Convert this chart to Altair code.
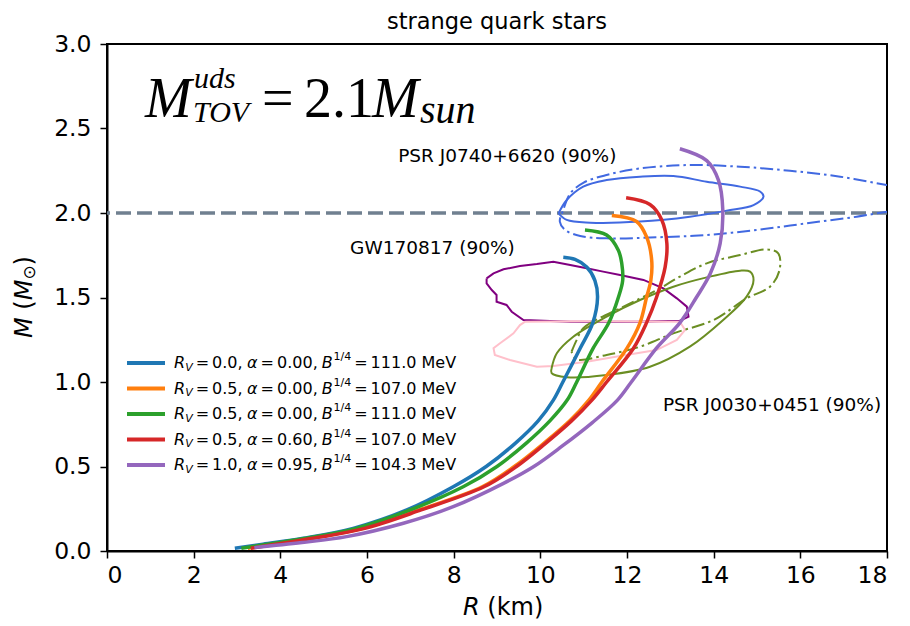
import altair as alt
import pandas as pd

W, H = 780, 507

# ---------------- data ----------------
series_labels = [
    "Rv=0.0, a=0.00, B=111.0",
    "Rv=0.5, a=0.00, B=107.0",
    "Rv=0.5, a=0.00, B=111.0",
    "Rv=0.5, a=0.60, B=107.0",
    "Rv=1.0, a=0.95, B=104.3",
]
series_colors = ["#1f77b4", "#ff7f0e", "#2ca02c", "#d62728", "#9467bd"]
legend_rv = ["0.0,", "0.5,", "0.5,", "0.5,", "1.0,"]
legend_alpha = ["0.00,", "0.00,", "0.00,", "0.60,", "0.95,"]
legend_b = ["111.0 MeV", "107.0 MeV", "111.0 MeV", "107.0 MeV", "104.3 MeV"]

blue_R = [2.95, 3.6, 4.53, 5.68, 6.92, 7.99, 8.75, 9.42, 9.95, 10.3, 10.52, 10.92, 11.21, 11.32, 11.26, 11.07, 10.8, 10.53]
blue_M = [0.016, 0.04, 0.075, 0.134, 0.243, 0.38, 0.5, 0.637, 0.77, 0.893, 1.0, 1.2, 1.35, 1.5, 1.6, 1.68, 1.725, 1.738]

orange_R = [3.25, 3.85, 4.7, 5.9, 7.2, 8.66, 9.4, 10.08, 10.68, 11.12, 11.42, 12.0, 12.3, 12.45, 12.55, 12.57, 12.45, 12.22, 11.65]
orange_M = [0.016, 0.04, 0.075, 0.134, 0.243, 0.38, 0.5, 0.637, 0.77, 0.893, 1.0, 1.2, 1.35, 1.5, 1.6, 1.72, 1.86, 1.95, 1.985]

green_R = [3.1, 3.7, 4.6, 5.75, 7.0, 8.22, 9.0, 9.67, 10.22, 10.62, 10.84, 11.22, 11.58, 11.8, 11.9, 11.88, 11.8, 11.53, 11.03]
green_M = [0.016, 0.04, 0.075, 0.134, 0.243, 0.38, 0.5, 0.637, 0.77, 0.893, 1.0, 1.2, 1.35, 1.5, 1.6, 1.7, 1.78, 1.87, 1.90]

red_R = [3.32, 3.9, 4.75, 5.95, 7.25, 8.7, 9.45, 10.12, 10.72, 11.19, 11.53, 12.15, 12.45, 12.68, 12.88, 12.92, 12.8, 12.53, 11.98]
red_M = [0.016, 0.04, 0.075, 0.134, 0.243, 0.38, 0.5, 0.637, 0.77, 0.893, 1.0, 1.2, 1.35, 1.5, 1.68, 1.82, 1.96, 2.05, 2.09]

purple_R = [3.4, 4.5, 5.53, 6.84, 7.99, 9.15, 9.85, 10.5, 11.2, 11.78, 12.1, 12.68, 13.22, 13.6, 13.92, 14.15, 14.21, 14.11, 13.84, 13.22]
purple_M = [0.02, 0.05, 0.085, 0.164, 0.262, 0.40, 0.5, 0.62, 0.76, 0.893, 1.0, 1.2, 1.35, 1.5, 1.64, 1.82, 2.02, 2.195, 2.31, 2.38]

# PSR J0740+6620 contours
j0740_R = [10.42, 10.61, 10.99, 11.53, 12.3, 13.07, 13.84, 14.61, 15.07, 15.15, 14.92, 14.3, 13.45, 12.3, 11.15, 10.61, 10.42]
j0740_M = [1.998, 2.077, 2.156, 2.195, 2.215, 2.219, 2.185, 2.156, 2.127, 2.097, 2.047, 2.014, 1.978, 1.949, 1.943, 1.959, 1.998]
j0740b_R = [18.6, 18.0, 17.3, 16.15, 15.0, 13.84, 12.68, 11.53, 10.92, 10.57, 10.45, 10.53, 10.69, 11.0, 11.53, 12.3, 13.45, 14.61, 15.76, 16.92, 17.99, 18.6]
j0740b_M = [2.03, 2.008, 1.978, 1.939, 1.90, 1.87, 1.856, 1.85, 1.864, 1.90, 1.949, 2.018, 2.116, 2.18, 2.225, 2.264, 2.284, 2.274, 2.25, 2.215, 2.166, 2.14]

# GW170817 contours
gw_R = [8.76, 8.92, 9.15, 9.53, 9.92, 10.3, 10.69, 11.07, 11.45, 11.84, 12.38, 12.84, 13.15, 13.38, 13.42, 13.22, 12.22, 10.69, 9.61, 9.34, 9.22, 8.99, 8.99, 8.88, 8.76, 8.76]
gw_M = [1.613, 1.643, 1.667, 1.686, 1.698, 1.712, 1.692, 1.673, 1.653, 1.633, 1.604, 1.554, 1.495, 1.446, 1.387, 1.363, 1.357, 1.357, 1.367, 1.416, 1.456, 1.475, 1.515, 1.544, 1.584, 1.613]
gwb_R = [9.65, 11.0, 12.4, 13.22, 13.34, 13.15, 12.68, 11.84, 11.07, 10.3, 9.92, 9.3, 8.95, 8.92, 9.07, 9.38, 9.53, 9.65]
gwb_M = [1.357, 1.36, 1.358, 1.357, 1.308, 1.249, 1.189, 1.154, 1.12, 1.095, 1.09, 1.13, 1.16, 1.2, 1.229, 1.288, 1.337, 1.357]

# PSR J0030+0451 contours
j0030_R = [10.26, 10.26, 10.61, 11.53, 12.53, 13.45, 14.22, 14.76, 14.92, 14.84, 14.61, 13.84, 13.07, 12.3, 11.53, 10.76, 10.38, 10.26]
j0030_M = [1.081, 1.052, 1.028, 1.041, 1.09, 1.209, 1.367, 1.505, 1.604, 1.653, 1.659, 1.619, 1.564, 1.485, 1.387, 1.268, 1.17, 1.081]
j0030b_R = [10.72, 10.84, 10.99, 11.92, 12.69, 13.22, 13.84, 14.61, 15.22, 15.49, 15.52, 15.3, 14.76, 14.0, 13.07, 12.3, 11.53, 10.84, 10.72]
j0030b_M = [1.179, 1.249, 1.318, 1.446, 1.544, 1.623, 1.702, 1.751, 1.785, 1.761, 1.663, 1.564, 1.495, 1.367, 1.288, 1.209, 1.16, 1.134, 1.179]

annot_text = ["PSR J0740+6620 (90%)", "GW170817 (90%)", "PSR J0030+0451 (90%)"]
annot_R = [6.72, 5.61, 12.83]
annot_M = [2.337, 1.793, 0.864]

x_ticks = [0, 2, 4, 6, 8, 10, 12, 14, 16, 18]
y_ticks = [0.0, 0.5, 1.0, 1.5, 2.0, 2.5, 3.0]

# ---------------- scales / encodings ----------------
xs = alt.Scale(domain=[0, 18], nice=False, zero=False)
ys = alt.Scale(domain=[0, 3], nice=False, zero=False)
X = alt.X("R:Q", scale=xs, axis=alt.Axis(values=x_ticks, format="d", title=None))
Y = alt.Y("M:Q", scale=ys, axis=alt.Axis(values=y_ticks, format=".1f", title=None))
color_scale = alt.Scale(domain=series_labels, range=series_colors)

rows = []
for lab, Rs, Ms in zip(series_labels,
                       [blue_R, orange_R, green_R, red_R, purple_R],
                       [blue_M, orange_M, green_M, red_M, purple_M]):
    for i, (r, m) in enumerate(zip(Rs, Ms)):
        rows.append({"series": lab, "R": r, "M": m, "i": i})
curves_df = pd.DataFrame(rows)

curves = alt.Chart(curves_df).mark_line(strokeWidth=3.5, interpolate="catmull-rom").encode(
    x=X, y=Y,
    color=alt.Color("series:N", scale=color_scale, legend=None),
    detail="series:N",
    order=alt.Order("i:Q"),
)

hline = alt.Chart(pd.DataFrame({"M": [2.0]})).mark_rule(
    color="#708090", strokeWidth=3.5, strokeDash=[15, 6]
).encode(y=Y)


def contour(Rs, Ms, color, dash=None, interp="catmull-rom"):
    df = pd.DataFrame({"R": Rs, "M": Ms, "i": list(range(len(Rs)))})
    kw = dict(color=color, strokeWidth=2, clip=True, interpolate=interp)
    if dash is not None:
        kw["strokeDash"] = dash
    return alt.Chart(df).mark_line(**kw).encode(x=X, y=Y, order=alt.Order("i:Q"))


DD = [13, 4, 2.5, 4]
contours = [
    contour(j0740_R, j0740_M, "#4169e1"),
    contour(j0740b_R, j0740b_M, "#4169e1", DD),
    contour(gw_R, gw_M, "#800080", interp="linear"),
    contour(gwb_R, gwb_M, "#ffc0cb", interp="linear"),
    contour(j0030_R, j0030_M, "#6b8e23"),
    contour(j0030b_R, j0030b_M, "#6b8e23", DD),
]

annots = alt.Chart(pd.DataFrame({"R": annot_R, "M": annot_M, "t": annot_text})).mark_text(
    align="left", baseline="middle", font="DejaVu Sans", fontSize=18.5, color="black"
).encode(x=X, y=Y, text="t:N")

# ---------------- legend (built by hand, pixel offsets) ----------------
row_y0, row_dy = 319, 25.5
leg_lines = pd.DataFrame({
    "series": series_labels,
    "px1": [20] * 5, "px2": [58] * 5,
    "py": [row_y0 + k * row_dy for k in range(5)],
})
legend_rules = alt.Chart(leg_lines).mark_rule(strokeWidth=4).encode(
    x=alt.X("px1:Q", scale=None, axis=None),
    x2="px2:Q",
    y=alt.Y("py:Q", scale=None, axis=None),
    color=alt.Color("series:N", scale=color_scale, legend=None),
)

FS = 16
pieces = []  # (text, px, style, size, dy, py)
for k in range(5):
    py = row_y0 + k * row_dy
    pieces += [
        ("R", 67, "italic", FS, 0, py),
        ("V", 78.2, "italic", 11, 4.5, py),
        ("=", 88.7, "normal", FS, 0, py),
        (legend_rv[k], 105.1, "normal", FS, 0, py),
        ("\u03b1", 140, "italic", FS, 0, py),
        ("=", 153.5, "normal", FS, 0, py),
        (legend_alpha[k], 170, "normal", FS, 0, py),
        ("B", 214.7, "italic", FS, 0, py),
        ("1/4", 226.5, "normal", 11, -6, py),
        ("=", 247.2, "normal", FS, 0, py),
        (legend_b[k], 263.6, "normal", FS, 0, py),
    ]
pieces_df = pd.DataFrame(pieces, columns=["text", "px", "style", "size", "dy", "py"])
pieces_df["py"] = pieces_df["py"] + pieces_df["dy"]

legend_texts = []
for (style, size), sub in pieces_df.groupby(["style", "size"]):
    legend_texts.append(
        alt.Chart(sub).mark_text(align="left", baseline="middle", font="DejaVu Sans",
                                 fontSize=float(size), fontStyle=style, color="black").encode(
            x=alt.X("px:Q", scale=None, axis=None),
            y=alt.Y("py:Q", scale=None, axis=None),
            text="text:N",
        )
    )


# ---------------- free texts (title, axis labels, formula) ----------------
def label(text, x, y, size, style="normal", font="DejaVu Sans", align="left",
          baseline="alphabetic", angle=0):
    kw = dict(align=align, baseline=baseline, font=font, fontSize=size,
              fontStyle=style, color="black", text=text)
    if angle:
        kw["angle"] = angle
    return alt.Chart(pd.DataFrame({"a": [0]})).mark_text(**kw).encode(
        x=alt.value(x), y=alt.value(y))


SERIF = "Liberation Serif"
texts = [
    label("strange quark stars", W / 2, -22, 22.5, align="center", baseline="middle"),
    # x label
    label("R", 356, 571, 24, style="italic"),
    label("(km)", 380.3, 571, 24),
    # y label (rotated)
    label("M", -82, 294, 24, style="italic", baseline="middle", angle=270),
    label("(", -82, 265.7, 24, baseline="middle", angle=270),
    label("M", -82, 256.3, 24, style="italic", baseline="middle", angle=270),
    label("\u2299", -77, 235.6, 17, baseline="middle", angle=270),
    label(")", -82, 221.4, 24, baseline="middle", angle=270),
    # formula
    label("M", 38, 73, 56, style="italic", font=SERIF),
    label("uds", 87, 44, 30, style="italic", font=SERIF),
    label("TOV", 86, 78, 30, style="italic", font=SERIF),
    label("=", 155, 73, 56, font=SERIF),
    label("2.1", 197, 73, 56, font=SERIF),
    label("M", 265, 73, 56, style="italic", font=SERIF),
    label("sun", 313, 79, 40, style="italic", font=SERIF),
]

chart = alt.layer(
    hline, *contours, curves, annots, legend_rules, *legend_texts, *texts
).properties(
    width=W, height=H,
    padding={"left": 99, "top": 36, "right": 10, "bottom": 74},
    autosize=alt.AutoSizeParams(type="none"),
).configure_view(
    stroke="black", strokeWidth=2
).configure_axis(
    domainColor="black", domainWidth=2, tickColor="black", tickWidth=1.5, tickSize=7,
    labelFont="DejaVu Sans", labelFontSize=23.5, labelColor="black", grid=False,
).configure_axisX(labelPadding=5).configure_axisY(labelPadding=9)

chart.save("out.html", embed_options={"renderer": "svg", "actions": False})
